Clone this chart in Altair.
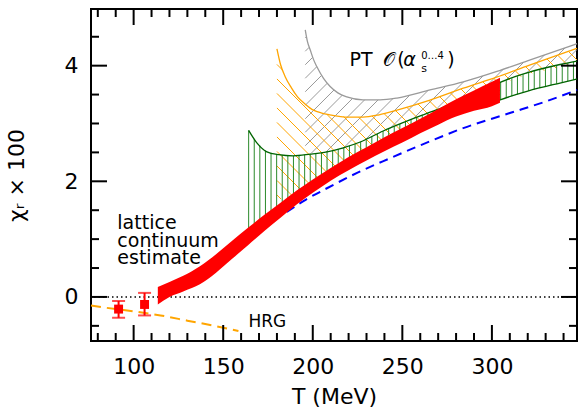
import altair as alt
import pandas as pd
import numpy as np

X_DOM = [76.2, 347.5]
Y_DOM = [-0.762, 4.98]
W, H = 486, 332
FONT = "DejaVu Sans"

# ---------------- data ----------------
# lattice continuum estimate (red band)
lat_T = [113.5, 120, 128, 137, 146, 155, 164, 173, 182, 191, 200, 210, 220, 230, 240, 250, 260, 270, 280, 290, 300, 304.5]
lat_hi = [0.17, 0.26, 0.37, 0.53, 0.74, 0.97, 1.20, 1.42, 1.63, 1.84, 2.03, 2.23, 2.42, 2.59, 2.76, 2.92, 3.08, 3.25, 3.42, 3.57, 3.72, 3.79]
lat_lo = [-0.13, 0.0, 0.10, 0.22, 0.42, 0.66, 0.90, 1.14, 1.37, 1.60, 1.80, 2.01, 2.19, 2.36, 2.52, 2.67, 2.83, 2.98, 3.12, 3.22, 3.30, 3.36]

# green band (vertical hatching)
grn_T = [164.2, 168.9, 174.4, 181, 189, 198.6, 207.9, 217, 226.5, 239.3, 250, 261.7, 274, 286, 296, 304.6, 320, 338, 347.5]
grn_hi = [2.88, 2.66, 2.51, 2.46, 2.44, 2.47, 2.51, 2.58, 2.68, 2.87, 3.01, 3.15, 3.29, 3.44, 3.57, 3.71, 3.88, 4.02, 4.08]
grn_lo = [0.97, 1.08, 1.22, 1.40, 1.60, 1.82, 2.02, 2.19, 2.35, 2.56, 2.70, 2.89, 3.08, 3.22, 3.31, 3.41, 3.56, 3.70, 3.77]

# orange band (\ hatching)
org_T = [180.0, 182, 184.6, 188, 191.5, 196, 200.4, 205, 209.5, 220, 228, 237, 247, 265, 284, 302.6, 321, 347.5]
org_hi = [4.29, 4.02, 3.81, 3.62, 3.46, 3.33, 3.23, 3.18, 3.15, 3.11, 3.11, 3.15, 3.23, 3.40, 3.61, 3.80, 4.01, 4.30]
org_lo = [1.68, 1.69, 1.70, 1.71, 1.74, 1.80, 1.88, 1.96, 2.03, 2.22, 2.36, 2.52, 2.70, 3.04, 3.36, 3.66, 3.86, 4.03]

# grey band (/ hatching), PT O(alpha_s^0..4)
gry_T = [195.8, 197, 198.6, 200.5, 202.3, 206, 209.7, 214, 219, 228, 237.6, 247, 265.5, 284, 302.8, 321.4, 347.5]
gry_hi = [4.62, 4.42, 4.27, 4.10, 3.98, 3.78, 3.64, 3.53, 3.46, 3.41, 3.41, 3.44, 3.58, 3.72, 3.90, 4.10, 4.38]
gry_lo = [2.47, 2.47, 2.48, 2.48, 2.49, 2.50, 2.51, 2.54, 2.57, 2.69, 2.83, 2.96, 3.22, 3.44, 3.70, 3.88, 4.06]

# blue dashed curve
blu_T = [185.5, 196, 207.9, 225, 243.2, 263, 284, 310, 330, 347.5]
blu_y = [1.47, 1.68, 1.88, 2.15, 2.40, 2.66, 2.92, 3.18, 3.38, 3.58]

# HRG (orange dashed)
hrg_T = [76.2, 90, 100, 115, 130, 145, 158.5]
hrg_y = [-0.15, -0.21, -0.25, -0.32, -0.41, -0.50, -0.59]

# red points with error bars
pt_T = [91.6, 106.1]
pt_y = [-0.21, -0.13]
pt_lo = [-0.36, -0.32]
pt_hi = [-0.07, 0.07]

# ticks
x_major = [100, 150, 200, 250, 300]
x_minor = [80, 90, 110, 120, 130, 140, 160, 170, 180, 190, 210, 220, 230, 240, 260, 270, 280, 290, 310, 320, 330, 340]
y_major = [0, 2, 4]
y_minor = [-0.5, 0.5, 1, 1.5, 2.5, 3, 3.5, 4.5]

# annotations (T, y positions in data units)
lat_text = ["lattice", "continuum", "estimate"]
lat_text_T = [90.9, 90.9, 90.9]
lat_text_y = [1.172, 0.869, 0.566]
hrg_text = ["HRG"]
hrg_text_T = [164.1]
hrg_text_y = [-0.52]
pt_parts = ["PT", "\U0001D4AA", "(", ")"]
pt_parts_T = [220.5, 239.3, 247.1, 275.0]
pt_parts_y = [3.995, 3.995, 3.995, 3.995]
alpha_T, alpha_y = [250.5], [3.995]
sup_text, sup_T, sup_y = ["0\u20264"], [260.5], [4.11]
sub_text, sub_T, sub_y = ["s"], [260.5], [3.89]

# ---------------- helpers ----------------
def px_of(T):
    return (np.asarray(T, float) - X_DOM[0]) / (X_DOM[1] - X_DOM[0]) * W

def py_of(v):
    return (Y_DOM[1] - np.asarray(v, float)) / (Y_DOM[1] - Y_DOM[0]) * H

def T_of(px):
    return X_DOM[0] + np.asarray(px) / W * (X_DOM[1] - X_DOM[0])

def v_of(py):
    return Y_DOM[1] - np.asarray(py) / H * (Y_DOM[1] - Y_DOM[0])


def diag_hatch(T, lo, hi, spacing, sign):
    T = np.asarray(T, float)
    xs = np.linspace(px_of(T[0]), px_of(T[-1]), 1500)
    Ts = T_of(xs)
    lo_p = py_of(np.interp(Ts, T, lo))
    hi_p = py_of(np.interp(Ts, T, hi))
    cmin = np.min(hi_p - sign * xs)
    cmax = np.max(lo_p - sign * xs)
    segs = []
    for c in np.arange(np.floor(cmin / spacing) * spacing, cmax + spacing, spacing):
        ys = sign * xs + c
        inside = (ys >= hi_p) & (ys <= lo_p)
        idx = np.where(inside)[0]
        if len(idx) < 2:
            continue
        br = np.where(np.diff(idx) > 1)[0]
        starts = np.concatenate([[idx[0]], idx[br + 1]])
        ends = np.concatenate([idx[br], [idx[-1]]])
        for s, e in zip(starts, ends):
            if e > s:
                segs.append(dict(T=Ts[s], v=float(v_of(ys[s])), T2=Ts[e], v2=float(v_of(ys[e]))))
    return pd.DataFrame(segs)


def vert_hatch(T, lo, hi, spacing_px):
    step = spacing_px / W * (X_DOM[1] - X_DOM[0])
    ts = np.arange(T[0], T[-1] + 1e-9, step)
    return pd.DataFrame(dict(T=ts, v=np.interp(ts, T, lo), v2=np.interp(ts, T, hi)))


xs = alt.Scale(domain=X_DOM, nice=False, zero=False)
ys = alt.Scale(domain=Y_DOM, nice=False, zero=False)
AX = alt.Axis(title="T (MeV)", values=x_major, format="d", labelFontSize=22, labelFont=FONT,
              titleFontSize=22, titleFont=FONT, titleFontWeight="normal", labelPadding=15,
              titlePadding=9, ticks=False, domain=False, grid=False, labelColor="black", titleColor="black")
AY = alt.Axis(title="\u03c7\u1d63 \u00d7 100", values=y_major, format="d", labelFontSize=22, labelFont=FONT,
              titleFontSize=22, titleFont=FONT, titleFontWeight="normal", labelPadding=13,
              titlePadding=36, ticks=False, domain=False, grid=False, labelColor="black", titleColor="black")


def X(f):
    return alt.X(f, type="quantitative", scale=xs, axis=AX)


def Y(f):
    return alt.Y(f, type="quantitative", scale=ys, axis=AY)


layers = []

# zero dotted line
zero_df = pd.DataFrame(dict(v=[0.0]))
layers.append(alt.Chart(zero_df).mark_rule(color="black", strokeWidth=1.5, strokeDash=[1.5, 3]).encode(y=Y("v")))

# hatches
gry_h = diag_hatch(gry_T, gry_lo, gry_hi, 13.5, -1)
org_h = diag_hatch(org_T, org_lo, org_hi, 14.5, 1)
grn_h = vert_hatch(grn_T, grn_lo, grn_hi, 5.6)
layers.append(alt.Chart(gry_h).mark_rule(color="#9a9a9a", strokeWidth=1).encode(
    x=X("T"), x2="T2", y=Y("v"), y2="v2"))
layers.append(alt.Chart(org_h).mark_rule(color="#ffa500", strokeWidth=1).encode(
    x=X("T"), x2="T2", y=Y("v"), y2="v2"))
layers.append(alt.Chart(grn_h).mark_rule(color="#2a8a2a", strokeWidth=1).encode(
    x=X("T"), y=Y("v"), y2="v2"))

# outlines
gry_df = pd.DataFrame(dict(T=gry_T, v=gry_hi))
org_df = pd.DataFrame(dict(T=org_T, v=org_hi))
grn_df_hi = pd.DataFrame(dict(T=grn_T, v=grn_hi))
grn_df_lo = pd.DataFrame(dict(T=grn_T, v=grn_lo))
layers.append(alt.Chart(gry_df).mark_line(color="#9a9a9a", strokeWidth=1.3, interpolate="monotone").encode(x=X("T"), y=Y("v")))
layers.append(alt.Chart(org_df).mark_line(color="#ffa500", strokeWidth=1.3, interpolate="monotone").encode(x=X("T"), y=Y("v")))
layers.append(alt.Chart(grn_df_hi).mark_line(color="#006400", strokeWidth=1.3, interpolate="monotone").encode(x=X("T"), y=Y("v")))
layers.append(alt.Chart(grn_df_lo).mark_line(color="#006400", strokeWidth=1.3, interpolate="monotone").encode(x=X("T"), y=Y("v")))

# blue dashed
blu_df = pd.DataFrame(dict(T=blu_T, v=blu_y))
layers.append(alt.Chart(blu_df).mark_line(color="#0000ff", strokeWidth=2, strokeDash=[9, 6], interpolate="monotone").encode(x=X("T"), y=Y("v")))

# red band
lat_df = pd.DataFrame(dict(T=lat_T, lo=lat_lo, hi=lat_hi))
layers.append(alt.Chart(lat_df).mark_area(color="#ff0000", opacity=1, interpolate="monotone").encode(
    x=X("T"), y=Y("lo"), y2="hi"))

# HRG dashed
hrg_df = pd.DataFrame(dict(T=hrg_T, v=hrg_y))
layers.append(alt.Chart(hrg_df).mark_line(color="#ffa500", strokeWidth=2, strokeDash=[10, 6], interpolate="monotone").encode(x=X("T"), y=Y("v")))

# points with error bars
pt_df = pd.DataFrame(dict(T=pt_T, v=pt_y, lo=pt_lo, hi=pt_hi))
layers.append(alt.Chart(pt_df).mark_rule(color="#ff0000", strokeWidth=2).encode(x=X("T"), y=Y("lo"), y2="hi"))
layers.append(alt.Chart(pt_df).mark_tick(color="#ff0000", orient="horizontal", size=13, thickness=2).encode(x=X("T"), y=Y("lo")))
layers.append(alt.Chart(pt_df).mark_tick(color="#ff0000", orient="horizontal", size=13, thickness=2).encode(x=X("T"), y=Y("hi")))
layers.append(alt.Chart(pt_df).mark_square(color="#ff0000", size=80, opacity=1, filled=True).encode(x=X("T"), y=Y("v")))

# texts
lat_t_df = pd.DataFrame(dict(T=lat_text_T, v=lat_text_y, t=lat_text))
layers.append(alt.Chart(lat_t_df).mark_text(font=FONT, fontSize=19, align="left", baseline="alphabetic", color="black").encode(
    x=X("T"), y=Y("v"), text="t"))
hrg_t_df = pd.DataFrame(dict(T=hrg_text_T, v=hrg_text_y, t=hrg_text))
layers.append(alt.Chart(hrg_t_df).mark_text(font=FONT, fontSize=17, align="left", baseline="alphabetic", color="black").encode(
    x=X("T"), y=Y("v"), text="t"))
pt_t_df = pd.DataFrame(dict(T=pt_parts_T, v=pt_parts_y, t=pt_parts))
layers.append(alt.Chart(pt_t_df).mark_text(font=FONT, fontSize=19, align="left", baseline="alphabetic", color="black").encode(
    x=X("T"), y=Y("v"), text="t"))
al_df = pd.DataFrame(dict(T=alpha_T, v=alpha_y, t=["\u03b1"]))
layers.append(alt.Chart(al_df).mark_text(font=FONT, fontSize=19, fontStyle="italic", align="left", baseline="alphabetic", color="black").encode(
    x=X("T"), y=Y("v"), text="t"))
sup_df = pd.DataFrame(dict(T=sup_T, v=sup_y, t=sup_text))
layers.append(alt.Chart(sup_df).mark_text(font=FONT, fontSize=10, align="left", baseline="alphabetic", color="black").encode(
    x=X("T"), y=Y("v"), text="t"))
sub_df = pd.DataFrame(dict(T=sub_T, v=sub_y, t=sub_text))
layers.append(alt.Chart(sub_df).mark_text(font=FONT, fontSize=11, align="left", baseline="alphabetic", color="black").encode(
    x=X("T"), y=Y("v"), text="t"))

# inward ticks on all four sides
MAJ, MIN = 16, 8
xmaj = pd.DataFrame(dict(T=x_major))
xmin = pd.DataFrame(dict(T=x_minor))
ymaj = pd.DataFrame(dict(v=y_major))
ymin = pd.DataFrame(dict(v=y_minor))
for df, L in ((xmaj, MAJ), (xmin, MIN)):
    layers.append(alt.Chart(df).mark_rule(color="black", strokeWidth=2).encode(
        x=X("T"), y=alt.value(H), y2=alt.value(H - L)))
    layers.append(alt.Chart(df).mark_rule(color="black", strokeWidth=2).encode(
        x=X("T"), y=alt.value(0), y2=alt.value(L)))
for df, L in ((ymaj, MAJ), (ymin, MIN)):
    layers.append(alt.Chart(df).mark_rule(color="black", strokeWidth=2).encode(
        y=Y("v"), x=alt.value(0), x2=alt.value(L)))
    layers.append(alt.Chart(df).mark_rule(color="black", strokeWidth=2).encode(
        y=Y("v"), x=alt.value(W), x2=alt.value(W - L)))

chart = alt.layer(*layers).properties(
    width=W, height=H,
    padding={"left": 91, "top": 9, "right": 1, "bottom": 68},
    autosize=alt.AutoSizeParams(type="none"),
    background="white",
).configure_view(stroke="black", strokeWidth=2)

chart.save("out.html", embed_options={"renderer": "svg", "actions": False})
